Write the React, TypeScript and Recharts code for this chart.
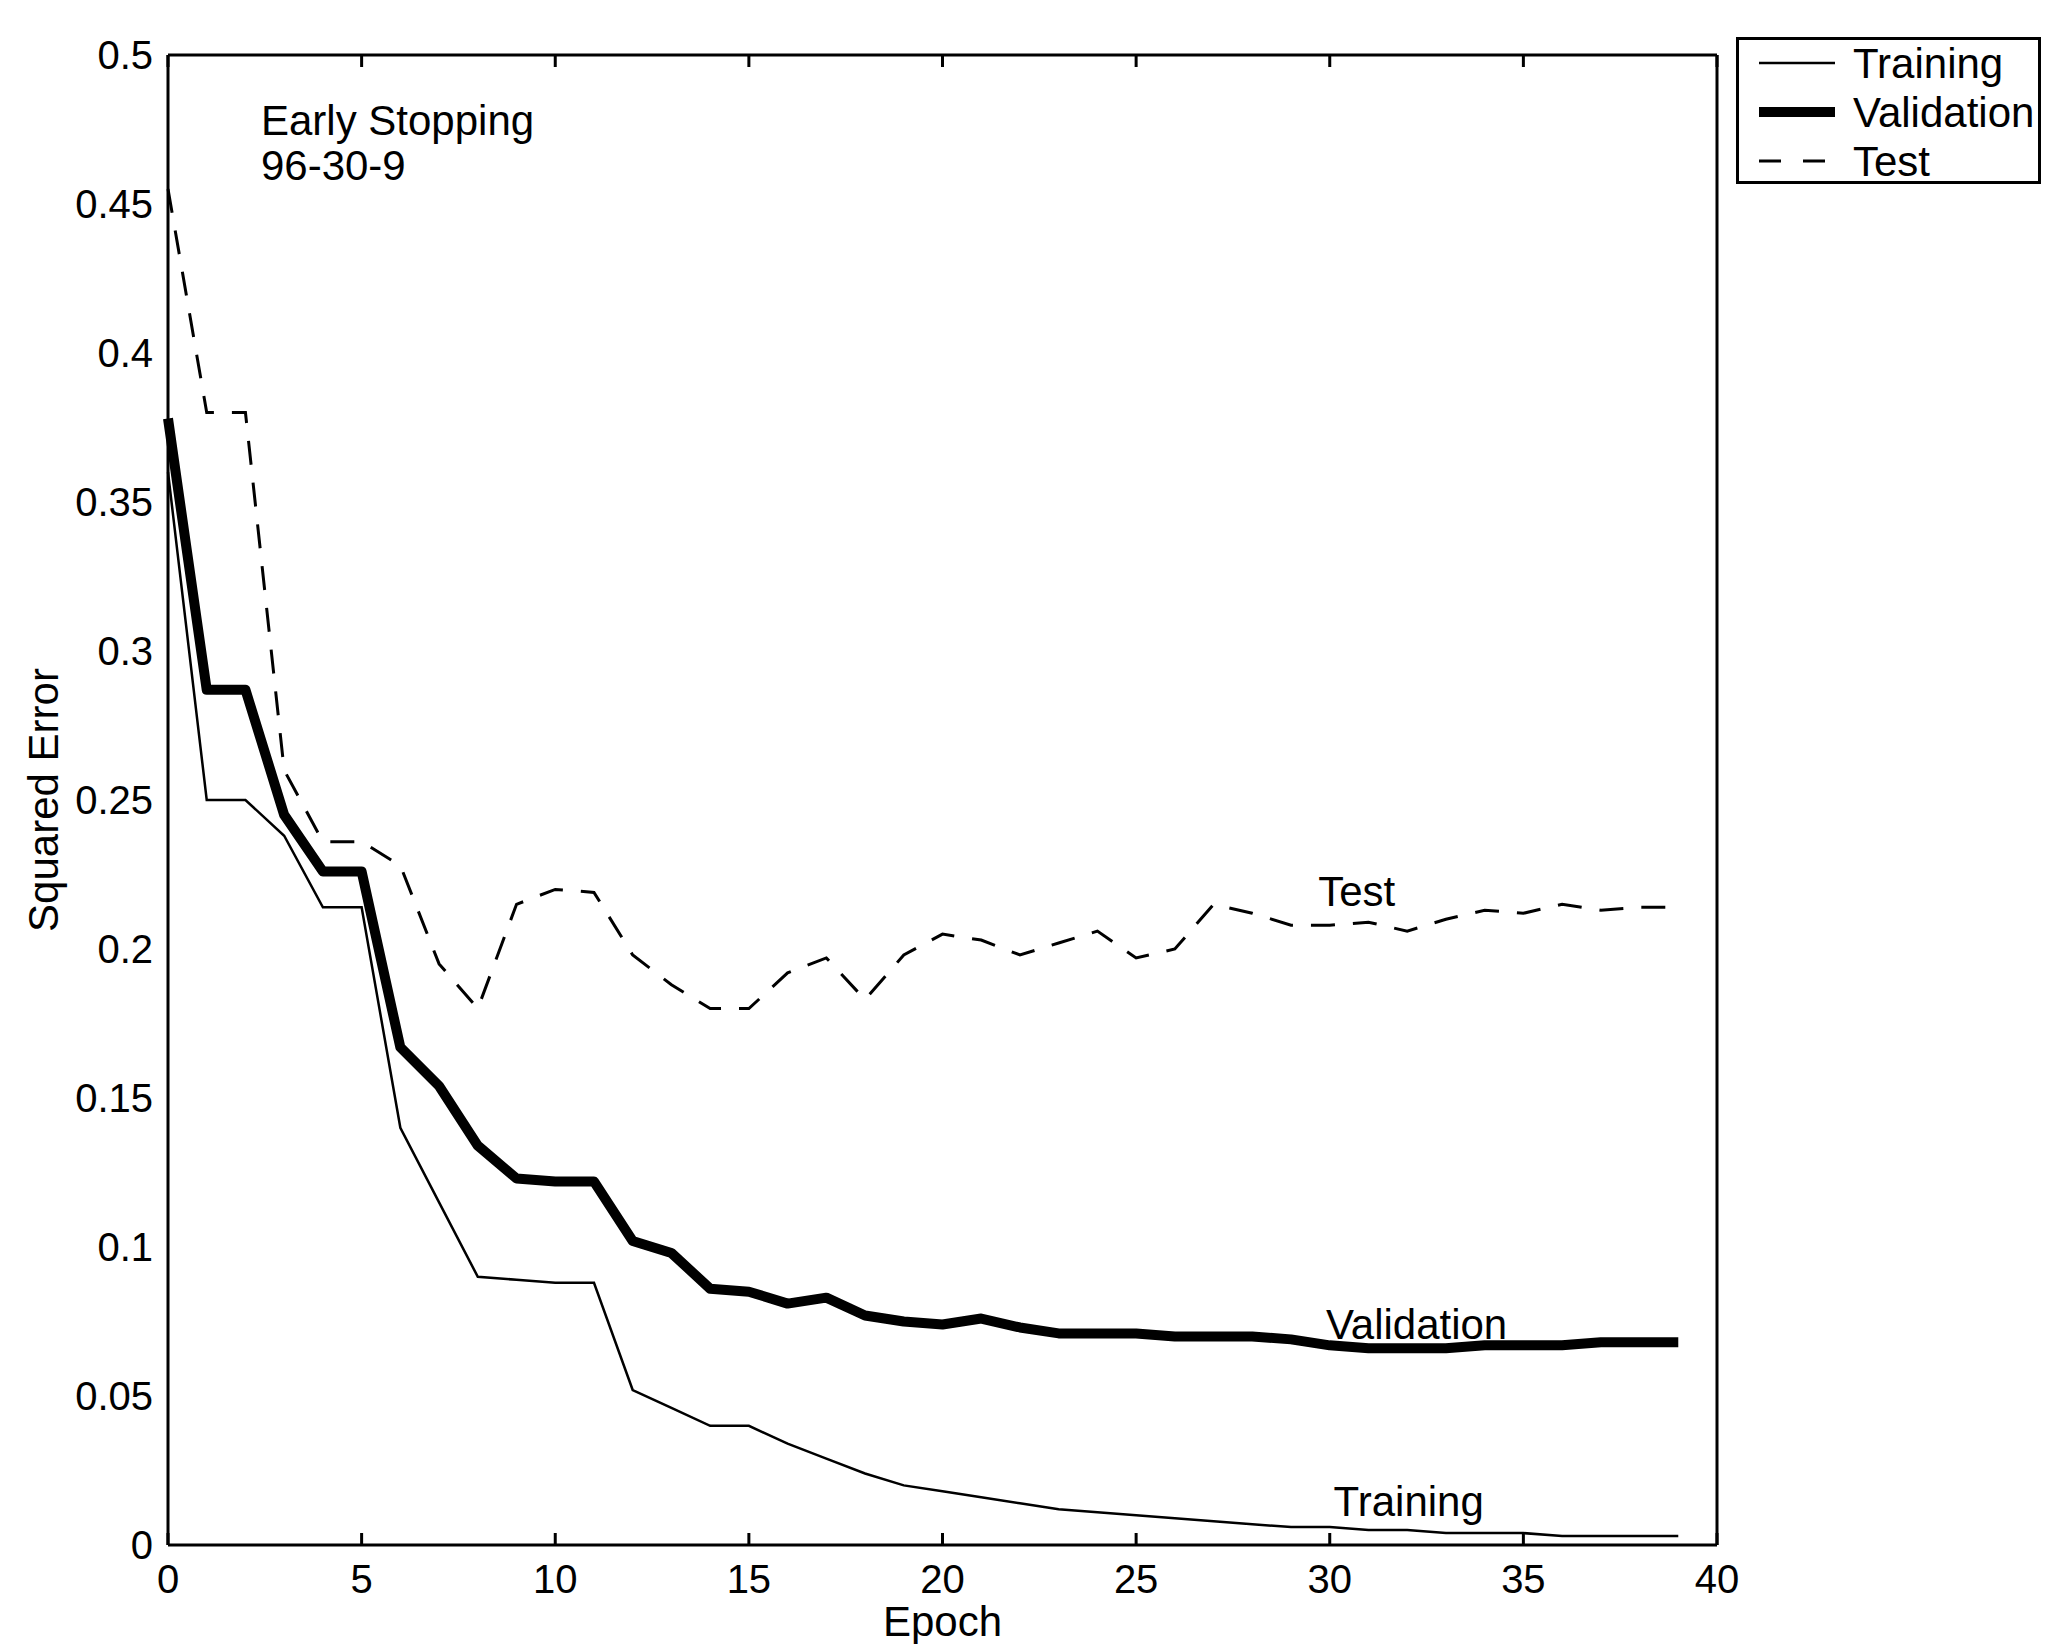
import { LineChart, Line, XAxis, YAxis, Legend, ReferenceDot } from 'recharts';

const epochs = [
  0, 1, 2, 3, 4, 5, 6, 7, 8, 9, 10, 11, 12, 13, 14, 15, 16, 17, 18, 19,
  20, 21, 22, 23, 24, 25, 26, 27, 28, 29, 30, 31, 32, 33, 34, 35, 36, 37, 38, 39,
];

const training = [
  0.36, 0.25, 0.25, 0.238, 0.214, 0.214, 0.14, 0.115, 0.09, 0.089,
  0.088, 0.088, 0.052, 0.046, 0.04, 0.04, 0.034, 0.029, 0.024, 0.02,
  0.018, 0.016, 0.014, 0.012, 0.011, 0.01, 0.009, 0.008, 0.007, 0.006,
  0.006, 0.005, 0.005, 0.004, 0.004, 0.004, 0.003, 0.003, 0.003, 0.003,
];

const validation = [
  0.378, 0.287, 0.287, 0.245, 0.226, 0.226, 0.167, 0.154, 0.134, 0.123,
  0.122, 0.122, 0.102, 0.098, 0.086, 0.085, 0.081, 0.083, 0.077, 0.075,
  0.074, 0.076, 0.073, 0.071, 0.071, 0.071, 0.07, 0.07, 0.07, 0.069,
  0.067, 0.066, 0.066, 0.066, 0.067, 0.067, 0.067, 0.068, 0.068, 0.068,
];

const test = [
  0.455, 0.38, 0.38, 0.26, 0.236, 0.236, 0.228, 0.195, 0.18, 0.215,
  0.22, 0.219, 0.198, 0.188, 0.18, 0.18, 0.192, 0.197, 0.183, 0.198,
  0.205, 0.203, 0.198, 0.202, 0.206, 0.197, 0.2, 0.215, 0.212, 0.208,
  0.208, 0.209, 0.206, 0.21, 0.213, 0.212, 0.215, 0.213, 0.214, 0.214,
];

const xTicks = [0, 5, 10, 15, 20, 25, 30, 35, 40];
const yTicks = [0, 0.05, 0.1, 0.15, 0.2, 0.25, 0.3, 0.35, 0.4, 0.45, 0.5];

// in-plot text labels: [x, y, text]
const annotations: [number, number, string][] = [
  [2.4, 0.473, 'Early Stopping'],
  [2.4, 0.458, '96-30-9'],
  [29.7, 0.2145, 'Test'],
  [29.9, 0.069, 'Validation'],
  [30.1, 0.0097, 'Training'],
];

const data = epochs.map((epoch, i) => ({
  epoch,
  training: training[i],
  validation: validation[i],
  test: test[i],
}));

const FONT = '"Liberation Sans", Arial, Helvetica, sans-serif';
const FS = 42;
const TICK_FS = 40;

const axisLine = { stroke: '#000', strokeWidth: 3 };
const tickLine = { stroke: '#000', strokeWidth: 3 };
const tickStyle = { fill: '#000', fontSize: TICK_FS, fontFamily: FONT };
const blank = () => '';

function LegendBox() {
  const rows = [
    { name: 'Training', width: 2.5, dash: undefined as string | undefined },
    { name: 'Validation', width: 10, dash: undefined },
    { name: 'Test', width: 3, dash: '22 22' },
  ];
  return (
    <svg width={305} height={147} style={{ display: 'block' }}>
      <rect x={1.5} y={1.5} width={302} height={144} fill="#fff" stroke="#000" strokeWidth={3} />
      {rows.map((r, i) => {
        const cy = 26 + i * 49;
        return (
          <g key={r.name}>
            <line x1={23} x2={r.dash ? 89 : 99} y1={cy} y2={cy} stroke="#000" strokeWidth={r.width} strokeDasharray={r.dash} />
            <text x={117} y={cy} dominantBaseline="central" fontSize={FS} fontFamily={FONT} fill="#000">
              {r.name}
            </text>
          </g>
        );
      })}
    </svg>
  );
}

const AnnotationText = (text: string) => (props: any) => (
  <text x={props.cx} y={props.cy} fontSize={FS} fontFamily={FONT} fill="#000">
    {text}
  </text>
);

export default function App() {
  return (
    <div style={{ position: 'absolute', left: 0, top: 0, background: '#fff' }}>
      <LineChart
        width={2058}
        height={1644}
        data={data}
        margin={{ top: 55, right: 341, bottom: 0, left: 0 }}
      >
        {/* labelled axes */}
        <XAxis
          xAxisId="x"
          dataKey="epoch"
          type="number"
          domain={[0, 40]}
          ticks={xTicks}
          interval={0}
          height={99}
          axisLine={axisLine}
          tickLine={false}
          tickSize={0}
          tickMargin={20}
          tick={tickStyle}
          label={(props: any) => {
            const vb = props.viewBox;
            return (
              <text x={vb.x + vb.width / 2} y={vb.y + 76} textAnchor="middle" dominantBaseline="central" fontSize={FS} fontFamily={FONT} fill="#000">
                Epoch
              </text>
            );
          }}
        />
        <YAxis
          yAxisId="y"
          type="number"
          domain={[0, 0.5]}
          ticks={yTicks}
          interval={0}
          width={168}
          axisLine={axisLine}
          tickLine={false}
          tickSize={0}
          tickMargin={15}
          tick={tickStyle}
          label={(props: any) => {
            const vb = props.viewBox;
            const cx = vb.x + 43;
            const cy = vb.y + vb.height / 2;
            return (
              <text x={cx} y={cy} transform={`rotate(-90 ${cx} ${cy})`} textAnchor="middle" dominantBaseline="central" fontSize={FS} fontFamily={FONT} fill="#000">
                Squared Error
              </text>
            );
          }}
        />
        {/* inward tick marks and frame, MATLAB style */}
        <XAxis xAxisId="xIn" mirror dataKey="epoch" type="number" domain={[0, 40]} ticks={xTicks} interval={0} height={1} axisLine={false} tickLine={tickLine} tickSize={12} tickFormatter={blank} />
        <XAxis xAxisId="top" orientation="top" mirror dataKey="epoch" type="number" domain={[0, 40]} ticks={xTicks} interval={0} height={1} axisLine={axisLine} tickLine={tickLine} tickSize={12} tickFormatter={blank} />
        <YAxis yAxisId="yIn" mirror type="number" domain={[0, 0.5]} ticks={yTicks} interval={0} width={1} axisLine={false} tickLine={tickLine} tickSize={12} tickFormatter={blank} />
        <YAxis yAxisId="right" orientation="right" mirror type="number" domain={[0, 0.5]} ticks={yTicks} interval={0} width={1} axisLine={axisLine} tickLine={tickLine} tickSize={12} tickFormatter={blank} />
        <Legend
          layout="vertical"
          align="center"
          verticalAlign="middle"
          content={() => <LegendBox />}
          wrapperStyle={{ position: 'absolute', left: 1736, top: 37, width: 305, height: 147 }}
        />
        <Line
          xAxisId="x"
          yAxisId="y"
          type="linear"
          dataKey="training"
          name="Training"
          stroke="#000"
          strokeWidth={2.5}
          dot={false}
          isAnimationActive={false}
        />
        <Line
          xAxisId="x"
          yAxisId="y"
          type="linear"
          dataKey="validation"
          name="Validation"
          stroke="#000"
          strokeWidth={10}
          strokeLinejoin="round"
          dot={false}
          isAnimationActive={false}
        />
        <Line
          xAxisId="x"
          yAxisId="y"
          type="linear"
          dataKey="test"
          name="Test"
          stroke="#000"
          strokeWidth={3}
          strokeDasharray="24 18"
          dot={false}
          isAnimationActive={false}
        />
        {annotations.map(([x, y, text]) => (
          <ReferenceDot
            key={text}
            xAxisId="x"
            yAxisId="y"
            x={x}
            y={y}
            r={0}
            ifOverflow="visible"
            shape={AnnotationText(text)}
          />
        ))}
      </LineChart>
    </div>
  );
}
